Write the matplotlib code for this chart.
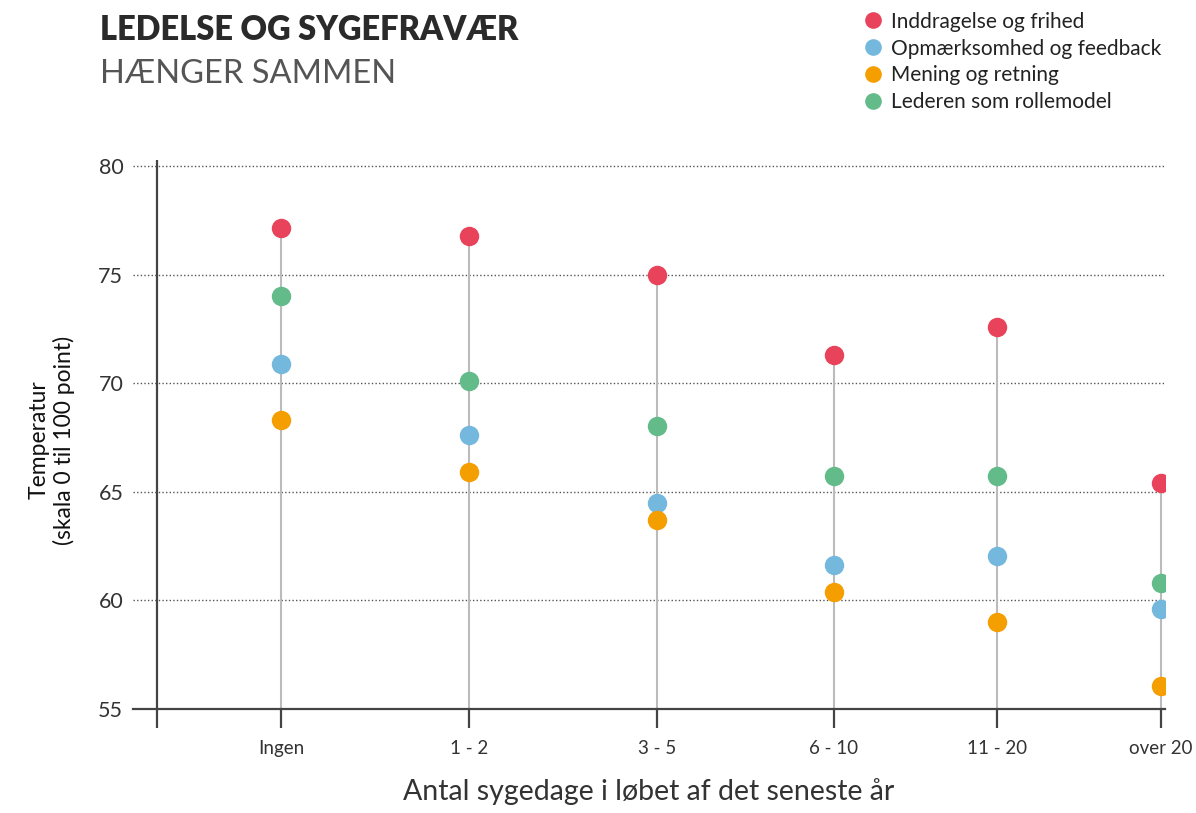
import matplotlib
matplotlib.use("Agg")
import matplotlib.pyplot as plt
from matplotlib.lines import Line2D

categories = ["Ingen", "1 - 2", "3 - 5", "6 - 10", "11 - 20", "over 20"]
x_pos = [0.66, 1.66, 2.66, 3.60, 4.47, 5.34]
series_names = ["Inddragelse og frihed", "Opmærksomhed og feedback",
                "Mening og retning", "Lederen som rollemodel"]
inddragelse = [77.15, 76.8, 75.0, 71.3, 72.6, 65.4]
opmaerksomhed = [70.9, 67.6, 64.5, 61.65, 62.05, 59.6]
mening = [68.3, 65.9, 63.7, 60.4, 59.0, 56.05]
rollemodel = [74.0, 70.1, 68.05, 65.75, 65.75, 60.8]
colors = ["#E8435A", "#74B8DD", "#F59E00", "#63BB8A"]
yticks = [55, 60, 65, 70, 75, 80]

plt.rcParams['font.family'] = ['Lato', 'DejaVu Sans']

fig = plt.figure(figsize=(11.96, 8.13), dpi=100)
ax = fig.add_axes([133/1196, 1-709/813, (1165-133)/1196, (709-160)/813])
ax.set_xlim(-24/188, (1165-157)/188)
ax.set_ylim(55, 80.28)

axis_col = "#444444"
# grid
for yv in yticks[1:]:
    ax.axhline(yv, color="#555555", lw=1.0, ls=(0, (1, 1.6)), zorder=1)

# stems
all_series = [inddragelse, opmaerksomhed, mening, rollemodel]
for i, xp in enumerate(x_pos):
    top = max(s[i] for s in all_series)
    ax.plot([xp, xp], [55, top], color="#BBBBBB", lw=1.5, zorder=2, solid_capstyle="butt")

for s, c, name in zip(all_series, colors, series_names):
    ax.plot(x_pos, s, 'o', ms=14, color=c, mec="none", zorder=3, label=name)

# axes lines
for sp in ["top", "right", "left"]:
    ax.spines[sp].set_visible(False)
ax.spines["bottom"].set_color(axis_col)
ax.spines["bottom"].set_linewidth(1.6)
ax.axvline(0, color=axis_col, lw=1.6, zorder=4)

ax.set_xticks([0] + x_pos)
ax.set_xticklabels([""] + categories)
ax.tick_params(axis="x", direction="out", length=13.5, width=1.6, color=axis_col,
               labelsize=13.5, labelcolor="#333333", pad=9)
ax.set_yticks(yticks)
ax.set_yticklabels([str(v) for v in yticks])
ax.tick_params(axis="y", length=0, labelsize=15.5, labelcolor="#333333", pad=7)

ax.set_xlabel("Antal sygedage i løbet af det seneste år", fontsize=20.5, color="#333333",
              labelpad=15)
fig.text(52/1196, 1-440/813, "Temperatur\n(skala 0 til 100 point)", rotation=90,
         ha="center", va="center", fontsize=16.5, color="#111111", linespacing=1.2)

fig.text(100/1196, 1-30/813, "LEDELSE OG SYGEFRAVÆR", fontsize=23.5, fontweight="heavy",
         color="#2a2a2a", ha="left", va="center")
fig.text(100/1196, 1-74/813, "HÆNGER SAMMEN", fontsize=23.5, fontweight="normal",
         color="#555555", ha="left", va="center")

handles = [Line2D([], [], marker='o', ls='none', ms=12, color=c, mec="none") for c in colors]
fig.legend(handles, series_names, loc="upper left", bbox_to_anchor=(844/1196, 1+7/813),
           frameon=False, fontsize=15, handletextpad=0.35, labelspacing=0.33,
           handlelength=1.0, labelcolor="#222222")

fig.savefig("out.png", dpi=100, facecolor="white")
